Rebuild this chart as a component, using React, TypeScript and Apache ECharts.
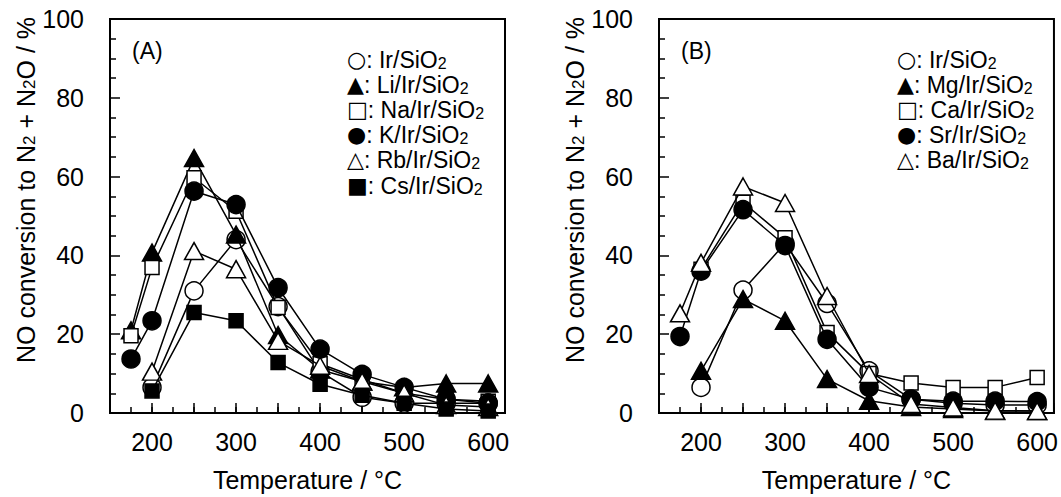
import React, { useEffect, useRef } from 'react';
import * as echarts from 'echarts';

const FONT = '"Liberation Sans", Arial, Helvetica, sans-serif';

// temperatures (°C)
const T175 = [175, 200, 250, 300, 350, 400, 450, 500, 550, 600];
const T200 = [200, 250, 300, 350, 400, 450, 500, 550, 600];

// x tick labels
const X_LABELS = [200, 300, 400, 500, 600];

// Panel (A): alkali metals
const irA = [6.5, 31, 44, 27, 10.5, 4, 2.5, 2.5, 2.5];
const liA = [21, 40.7, 64.7, 45.3, 19.8, 11, 8, 6.5, 7.5, 7.5];
const naA = [19.6, 36.9, 59.7, 51.2, 26.8, 12.5, 8.5, 5, 3.5, 3];
const kA = [13.7, 23.4, 56.3, 52.9, 31.8, 16.2, 9.8, 6.5, 3.5, 2.5];
const rbA = [10.5, 41.1, 36.5, 18.3, 12, 8, 5, 2, 1.5];
const csA = [5.6, 25.5, 23.4, 12.8, 7.3, 4.5, 2.5, 1, 0.5];

// Panel (B): alkaline earth metals
const irB = [6.5, 31.2, 43, 27.8, 10.7, 3.5, 2.5, 2, 2];
const mgB = [10.7, 28.9, 23.4, 8.6, 3.1, 1.5, 1, 0.5, 0.5];
const caB = [36.5, 53.5, 44.5, 20.4, 10, 7.6, 6.5, 6.5, 9];
const srB = [19.4, 36, 51.6, 42.5, 18.7, 6.5, 3.5, 3, 3, 2.9];
const baB = [25.3, 38.1, 57.5, 53.3, 29.7, 9.9, 2.3, 1.4, 0.6, 0.5];

const namesA = ['Ir/SiO2', 'Li/Ir/SiO2', 'Na/Ir/SiO2', 'K/Ir/SiO2', 'Rb/Ir/SiO2', 'Cs/Ir/SiO2'];
const namesB = ['Ir/SiO2', 'Mg/Ir/SiO2', 'Ca/Ir/SiO2', 'Sr/Ir/SiO2', 'Ba/Ir/SiO2'];

type Marker = { symbol: string; size: number | number[]; fill: string; glyph: string };
const M_OCIRCLE: Marker = { symbol: 'circle', size: 18, fill: '#fff', glyph: '○' };
const M_FTRI: Marker = { symbol: 'triangle', size: [19, 17], fill: '#000', glyph: '▲' };
const M_ORECT: Marker = { symbol: 'rect', size: 14, fill: '#fff', glyph: '□' };
const M_FCIRCLE: Marker = { symbol: 'circle', size: 18, fill: '#000', glyph: '●' };
const M_OTRI: Marker = { symbol: 'triangle', size: [19, 17], fill: '#fff', glyph: '△' };
const M_FRECT: Marker = { symbol: 'rect', size: 14, fill: '#000', glyph: '■' };

const panelA = [
  { name: namesA[0], t: T200, v: irA, m: M_OCIRCLE },
  { name: namesA[1], t: T175, v: liA, m: M_FTRI },
  { name: namesA[2], t: T175, v: naA, m: M_ORECT },
  { name: namesA[3], t: T175, v: kA, m: M_FCIRCLE },
  { name: namesA[4], t: T200, v: rbA, m: M_OTRI },
  { name: namesA[5], t: T200, v: csA, m: M_FRECT },
];
const panelB = [
  { name: namesB[0], t: T200, v: irB, m: M_OCIRCLE },
  { name: namesB[1], t: T200, v: mgB, m: M_FTRI },
  { name: namesB[2], t: T200, v: caB, m: M_ORECT },
  { name: namesB[3], t: T175, v: srB, m: M_FCIRCLE },
  { name: namesB[4], t: T175, v: baB, m: M_OTRI },
];

const GRIDS = [
  { left: 110, top: 19, width: 395, height: 395 },
  { left: 659, top: 19, width: 396, height: 395 },
];

const LEG = [
  { left: 347, top: 40, rowH: 25.2 },
  { left: 897, top: 40, rowH: 25.2 },
];

const App: React.FC = () => {
  const ref = useRef<HTMLDivElement>(null);
  useEffect(() => {
    if (!ref.current) return;
    const chart = echarts.init(ref.current, undefined, { renderer: 'svg' });

    const lineBlack = { color: '#000', width: 1.5 };

    const xMajor = (gi: number) => ({
      type: 'value',
      gridIndex: gi,
      min: 150,
      max: 620,
      interval: 50,
      position: 'bottom',
      axisLine: { show: true, onZero: false, lineStyle: { color: '#000', width: 2 } },
      axisTick: { show: true, inside: true, length: 10, lineStyle: lineBlack },
      splitLine: { show: false },
      axisLabel: {
        show: true,
        margin: 16,
        fontSize: 25,
        fontFamily: FONT,
        color: '#000',
        formatter: (v: number) => (X_LABELS.indexOf(v) >= 0 ? String(v) : ''),
      },
      name: 'Temperature / °C',
      nameLocation: 'middle',
      nameGap: 54,
      nameTextStyle: { fontSize: 25, fontFamily: FONT, color: '#000' },
    });
    const xMinor = (gi: number) => ({
      type: 'value',
      gridIndex: gi,
      min: 150,
      max: 620,
      interval: 25,
      position: 'bottom',
      axisLine: { show: false },
      axisTick: { show: true, inside: true, length: 6, lineStyle: lineBlack },
      splitLine: { show: false },
      axisLabel: { show: false },
    });
    const yAx = (gi: number) => ({
      type: 'value',
      gridIndex: gi,
      min: 0,
      max: 100,
      interval: 20,
      axisLine: { show: true, lineStyle: { color: '#000', width: 2 } },
      axisTick: { show: true, inside: true, length: 10, lineStyle: lineBlack },
      minorTick: { show: true, splitNumber: 4, length: 6, lineStyle: lineBlack },
      splitLine: { show: false },
      minorSplitLine: { show: false },
      axisLabel: { margin: 26, fontSize: 25, fontFamily: FONT, color: '#000' },
      name: '{m|NO conversion to N}{s|2}{m| + N}{s|2}{m|O / %}',
      nameLocation: 'middle',
      nameGap: 70,
      nameTextStyle: {
        fontSize: 25,
        fontFamily: FONT,
        color: '#000',
        padding: [0, 0, 0, 52],
        rich: {
          m: { fontSize: 25, fontFamily: FONT, color: '#000', lineHeight: 25, verticalAlign: 'top' },
          s: { fontSize: 17, fontFamily: FONT, color: '#000', lineHeight: 17, verticalAlign: 'bottom', padding: [19, 0, 0, 0] },
        },
      },
    });

    const mkSeries = (p: any, xi: number, yi: number, z: number) => ({
      type: 'line',
      name: p.name,
      xAxisIndex: xi,
      yAxisIndex: yi,
      data: p.t.map((t: number, i: number) => [t, p.v[i]]),
      symbol: p.m.symbol,
      symbolSize: p.m.size,
      itemStyle: { color: p.m.fill, borderColor: '#000', borderWidth: 1.5 },
      lineStyle: { color: '#000', width: 1.5 },
      emphasis: { disabled: true },
      silent: true,
      z: 2 + z,
    });

    const series = [
      ...panelA.map((p, i) => mkSeries(p, 0, 0, i)),
      ...panelB.map((p, i) => mkSeries(p, 2, 1, i)),
    ];

    const legRich = {
      g: { fontSize: 22, fontFamily: '"DejaVu Sans", sans-serif', color: '#000', lineHeight: 23, verticalAlign: 'top' },
      m: { fontSize: 23, fontFamily: FONT, color: '#000', lineHeight: 23, verticalAlign: 'top' },
      s: { fontSize: 16, fontFamily: FONT, color: '#000', lineHeight: 16, verticalAlign: 'bottom', padding: [15, 0, 0, 0] },
    };
    const legendTexts: any[] = [];
    [panelA, panelB].forEach((panel, pi) => {
      panel.forEach((p, i) => {
        legendTexts.push({
          type: 'text',
          left: LEG[pi].left,
          top: LEG[pi].top + i * LEG[pi].rowH,
          silent: true,
          style: {
            text: `{g|${p.m.glyph}}{m|: ${p.name.slice(0, -1)}}{s|${p.name.slice(-1)}}`,
            rich: legRich,
            fill: '#000',
          },
        });
      });
    });

    const option: any = {
      animation: false,
      backgroundColor: '#fff',
      grid: GRIDS.map((g) => ({ ...g, show: true, borderColor: '#000', borderWidth: 2, backgroundColor: 'transparent' })),
      xAxis: [xMajor(0), xMinor(0), xMajor(1), xMinor(1)],
      yAxis: [yAx(0), yAx(1)],
      series,
      graphic: [
        ...legendTexts,
        { type: 'text', left: 132, top: 39, silent: true, style: { text: '(A)', fontSize: 23, fontFamily: FONT, fill: '#000' } },
        { type: 'text', left: 681, top: 39, silent: true, style: { text: '(B)', fontSize: 23, fontFamily: FONT, fill: '#000' } },
      ],
    };
    chart.setOption(option);
    return () => chart.dispose();
  }, []);
  return (
    <div
      ref={ref}
      style={{ position: 'fixed', left: 0, top: 0, width: 1061, height: 497, overflow: 'hidden' }}
    />
  );
};

export default App;
